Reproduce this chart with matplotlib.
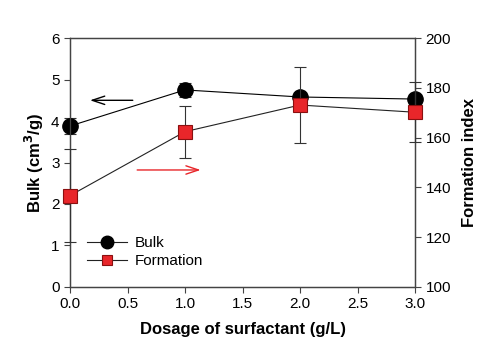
import matplotlib
matplotlib.use('Agg')
import matplotlib.pyplot as plt
from matplotlib.lines import Line2D

plt.rcParams['font.family'] = ['Liberation Sans', 'DejaVu Sans']

dosage = [0.0, 1.0, 2.0, 3.0]
bulk = [3.88, 4.75, 4.58, 4.53]
bulk_err = [0.2, 0.17, 0.05, 0.05]
formation = [136.7, 162.4, 173.1, 170.2]
formation_err = [18.6, 10.5, 15.3, 12.0]

fig = plt.figure(figsize=(5, 3.56), dpi=100)
ax = fig.add_axes([0.14, 0.194, 0.69, 0.699])
ax2 = ax.twinx()

eb1 = ax.errorbar(dosage, bulk, yerr=bulk_err, color='black', lw=0.8, ecolor='#333333',
                  elinewidth=0.8, capsize=4, capthick=0.8, marker='o', ms=11,
                  mfc='black', mec='black', zorder=5)
eb2 = ax2.errorbar(dosage, formation, yerr=formation_err, color='#222222', lw=0.8,
                   ecolor='#333333', elinewidth=0.8, capsize=4, capthick=0.8,
                   marker='s', ms=9.5, mfc='#e8262a', mec='#8a1010', mew=0.8,
                   zorder=5)
for eb in (eb1, eb2):
    for child in eb.get_children():
        child.set_clip_on(False)

ax.set_xlim(0, 3)
ax.set_ylim(0, 6)
ax2.set_ylim(100, 200)
ax.set_xticks([0, 0.5, 1, 1.5, 2, 2.5, 3])
ax.set_xticklabels(['0.0', '0.5', '1.0', '1.5', '2.0', '2.5', '3.0'])
ax.set_yticks(range(7))
ax2.set_yticks(range(100, 201, 20))

for a in (ax, ax2):
    a.tick_params(direction='out', length=4, width=0.8, labelsize=11, color='#444444')
    for s in a.spines.values():
        s.set_linewidth(0.9)
        s.set_color('#444444')

ax.set_xlabel('Dosage of surfactant (g/L)', fontsize=12, fontweight='bold', labelpad=8)
ax.set_ylabel('Bulk (cm$^\\mathbf{3}$/g)', fontsize=12, fontweight='bold', labelpad=4)
ax2.set_ylabel('Formation index', fontsize=12, fontweight='bold', labelpad=8)

ax.annotate('', xy=(0.15, 4.5), xytext=(0.57, 4.5),
            arrowprops=dict(arrowstyle='->,head_length=0.9,head_width=0.3', color='black', lw=1))
ax.annotate('', xy=(1.16, 2.82), xytext=(0.56, 2.82),
            arrowprops=dict(arrowstyle='->,head_length=0.9,head_width=0.3', color='#e8262a', lw=1))

handles = [
    Line2D([], [], color='#222222', lw=0.8, marker='o', ms=9, mfc='black', mec='black'),
    Line2D([], [], color='#222222', lw=0.8, marker='s', ms=7.5, mfc='#e8262a',
           mec='#8a1010', mew=0.8),
]
ax2.legend(handles, ['Bulk', 'Formation'], loc='lower left', bbox_to_anchor=(0.01, 0.02),
           frameon=False, fontsize=11, handlelength=2.6, labelspacing=0.25,
           handletextpad=0.5)

fig.savefig('out.png', dpi=100)
